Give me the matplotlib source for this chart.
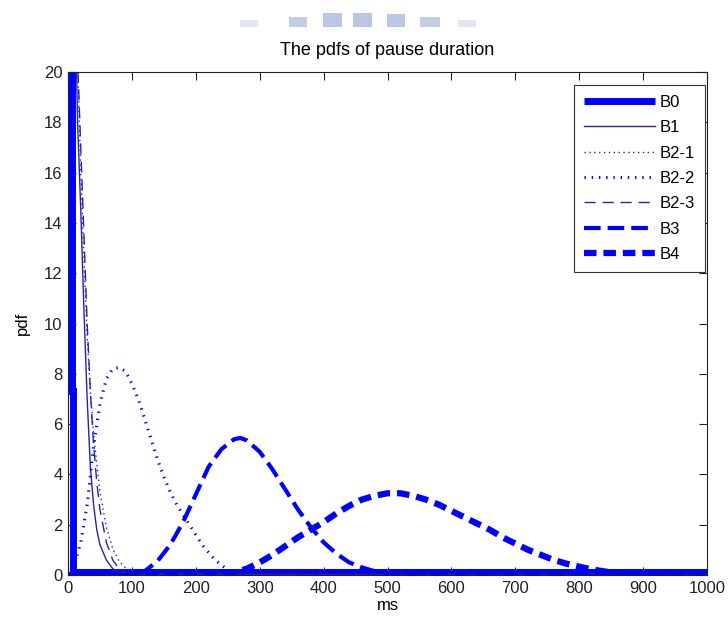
"""The pdfs of pause duration, redrawn from a MATLAB figure."""

import matplotlib

matplotlib.use("Agg")
import matplotlib.pyplot as plt
from matplotlib.patches import Rectangle

plt.rcParams["font.family"] = ["Liberation Sans", "DejaVu Sans"]
plt.rcParams["lines.scale_dashes"] = False

# values (x in ms, y = pdf)
b0_x = [6, 6, 8, 8, 1000]
b0_y = [30, 7.3, 7.3, 0.12, 0.12]

b1_x = [5, 10, 13, 15, 20, 25, 30, 35, 40, 45, 50, 60, 70, 80, 100, 1000]
b1_y = [28, 24, 20.5, 18, 14.5, 10.5, 7.0, 4.3, 2.8, 1.8, 1.2, 0.6, 0.25, 0.1, 0.02, 0.0]

b21_x = [8, 12, 15, 20, 25, 30, 35, 40, 50, 60, 70, 80, 90, 100, 110, 1000]
b21_y = [28, 24, 20.5, 16, 12.5, 9.5, 7.3, 5.6, 3.3, 1.9, 1.05, 0.55, 0.28, 0.13, 0.05, 0.0]

b22_x = [0, 10, 20, 30, 40, 50, 60, 70, 80, 90, 100, 110, 120, 130, 140,
         150, 160, 170, 180, 190, 200, 210, 220, 230, 240, 250, 260, 270, 1000]
b22_y = [0, 0.4, 1.3, 2.8, 5.1, 6.8, 7.8, 8.2, 8.25, 8.1, 7.6, 7.0, 6.2, 5.4, 4.6,
         3.9, 3.3, 2.8, 2.4, 2.0, 1.6, 1.2, 0.9, 0.6, 0.4, 0.2, 0.1, 0.05, 0.0]

b23_x = [8, 12, 15, 20, 25, 30, 35, 40, 45, 50, 60, 70, 80, 90, 100, 1000]
b23_y = [28, 23, 20.5, 17, 13.5, 10, 7.3, 5.2, 3.7, 2.6, 1.3, 0.6, 0.25, 0.1, 0.03, 0.0]

b3_x = [0, 100, 120, 140, 160, 180, 200, 220, 240, 260, 270, 280, 300, 320, 340,
        360, 380, 400, 420, 440, 460, 480, 500, 520, 1000]
b3_y = [0, 0, 0.15, 0.55, 1.2, 2.1, 3.2, 4.3, 5.0, 5.4, 5.45, 5.35, 4.9, 4.2, 3.4,
        2.6, 1.9, 1.3, 0.85, 0.5, 0.3, 0.15, 0.07, 0.03, 0.0]

b4_x = [0, 240, 260, 280, 300, 320, 340, 360, 380, 400, 420, 440, 460, 480, 500,
        520, 540, 560, 580, 600, 620, 640, 660, 680, 700, 720, 740, 760, 780,
        800, 820, 840, 860, 880, 900, 1000]
b4_y = [0, 0, 0.1, 0.25, 0.5, 0.8, 1.15, 1.5, 1.8, 2.1, 2.45, 2.75, 3.0, 3.15, 3.25,
        3.25, 3.15, 3.0, 2.8, 2.55, 2.3, 2.05, 1.8, 1.5, 1.25, 1.0, 0.8, 0.6, 0.45,
        0.33, 0.22, 0.14, 0.08, 0.04, 0.02, 0.0]

x_ticks = list(range(0, 1001, 100))
y_ticks = list(range(0, 21, 2))

blue = "#0000ff"
thin = "#2424a8"

fig = plt.figure(figsize=(7.28, 6.29), dpi=100)

# faint watermark at the top of the scanned page
for x0, x1, y0, y1, a in [(240, 258, 20, 27, 0.35), (289, 307, 17, 27, 0.7),
                          (323, 342, 13, 27, 0.8), (353, 372, 13, 27, 0.8),
                          (387, 405, 14, 27, 0.8), (420, 440, 17, 27, 0.7),
                          (458, 476, 20, 27, 0.35)]:
    fig.patches.append(Rectangle((x0 / 728, 1 - y1 / 629), (x1 - x0) / 728, (y1 - y0) / 629,
                                 transform=fig.transFigure, color="#a9b8dc", alpha=a, lw=0))

ax = fig.add_axes([68 / 728, 54 / 629, 639 / 728, 503 / 629])

ax.plot(b0_x, b0_y, color=blue, lw=5, solid_capstyle="butt", solid_joinstyle="miter", label="B0")
ax.plot(b1_x, b1_y, color=thin, lw=1.0, label="B1")
ax.plot(b21_x, b21_y, color=thin, lw=1.0, linestyle=(0, (1, 2.5)), label="B2-1")
ax.plot(b22_x, b22_y, color=blue, lw=2.2, linestyle=(0, (1.0, 4.2)), label="B2-2")
ax.plot(b23_x, b23_y, color=thin, lw=1.0, linestyle=(0, (8, 5)), label="B2-3")
ax.plot(b3_x, b3_y, color=blue, lw=3.0, linestyle=(0, (12, 5)), label="B3")
ax.plot(b4_x, b4_y, color=blue, lw=4.5, linestyle=(0, (9, 5)), label="B4")

ax.set_xlim(0, 1000)
ax.set_ylim(0, 20)
ax.set_xticks(x_ticks)
ax.set_yticks(y_ticks)
ax.tick_params(direction="in", length=6, width=0.8, top=True, right=True,
               labelsize=12, colors="#222222", pad=4)
for s in ax.spines.values():
    s.set_linewidth(0.8)
    s.set_color("#222222")

ax.set_title("The pdfs of pause duration", fontsize=13, pad=12)
ax.set_xlabel("ms", fontsize=12, labelpad=2)
ax.set_ylabel("pdf", fontsize=12, labelpad=10)

leg = ax.legend(loc="upper right", bbox_to_anchor=(705 / 728, 1 - 85 / 629),
                bbox_transform=fig.transFigure, borderaxespad=0,
                fontsize=12, handlelength=4.3, handletextpad=0.25,
                labelspacing=0.62, borderpad=0.6,
                fancybox=False, framealpha=1, edgecolor="#333333")
leg.get_frame().set_linewidth(0.8)

fig.savefig("out.png", dpi=100)
